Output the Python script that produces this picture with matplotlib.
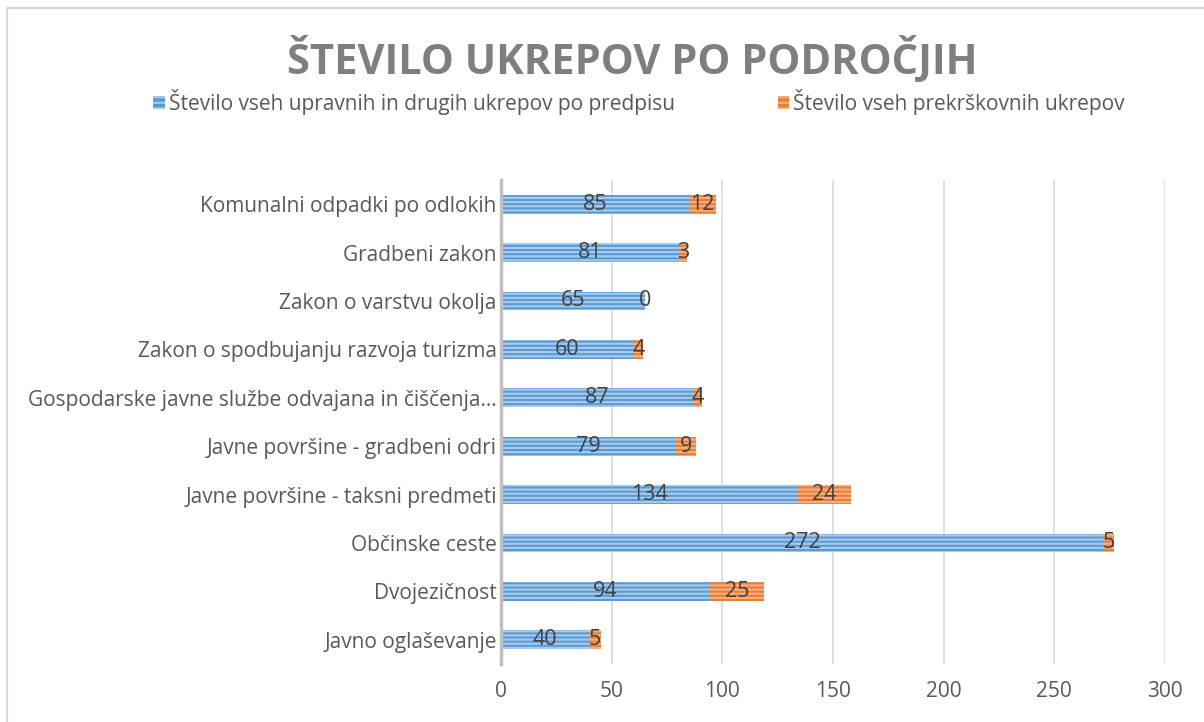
import matplotlib
matplotlib.use('Agg')
import matplotlib.pyplot as plt
from matplotlib.patches import Rectangle, Patch

plt.rcParams['font.family'] = ['Open Sans', 'DejaVu Sans']
plt.rcParams['hatch.linewidth'] = 1.5

kategorije = ['Javno oglaševanje', 'Dvojezičnost', 'Občinske ceste',
              'Javne površine - taksni predmeti', 'Javne površine - gradbeni odri',
              'Gospodarske javne službe odvajana in čiščenja…',
              'Zakon o spodbujanju razvoja turizma', 'Zakon o varstvu okolja',
              'Gradbeni zakon', 'Komunalni odpadki po odlokih']
upravni = [40, 94, 272, 134, 79, 87, 60, 65, 81, 85]
prekrskovni = [5, 25, 5, 24, 9, 4, 4, 0, 3, 12]
x_ticks = [0, 50, 100, 150, 200, 250, 300]

naslov = 'ŠTEVILO UKREPOV PO PODROČJIH'
legenda = ['Število vseh upravnih in drugih ukrepov po predpisu',
           'Število vseh prekrškovnih ukrepov']

modra, modra_crte = '#5B9BD5', '#A9CBEB'
oranzna, oranzna_crte = '#ED7D31', '#F4B183'
siva_txt = '#595959'

fig = plt.figure(figsize=(12.04, 7.22), dpi=100)
W, H = 1204, 722
# okvir grafa (viden je le levi in zgornji rob)
fig.patches.append(Rectangle((7 / W, -0.1), 1.5, (H - 8) / H + 0.1, transform=fig.transFigure,
                             fill=False, edgecolor='#D9D9D9', linewidth=1.5))

ax = fig.add_axes([501 / W, 1 - 664 / H, (1165 - 501) / W, (664 - 180) / H])
y = range(len(kategorije))
ax.barh(y, upravni, height=0.39, color=modra, edgecolor=modra_crte, hatch='----', linewidth=0, zorder=3)
ax.barh(y, prekrskovni, left=upravni, height=0.39, color=oranzna, edgecolor=oranzna_crte,
        hatch='----', linewidth=0, zorder=3)

for i in y:
    ax.text(upravni[i] / 2, i, str(upravni[i]), ha='center', va='center',
            fontsize=15.5, color='#404040', zorder=4)
    ax.text(upravni[i] + prekrskovni[i] / 2, i, str(prekrskovni[i]), ha='center', va='center',
            fontsize=15.5, color='#404040', zorder=4)

ax.set_xlim(0, 300)
ax.set_ylim(-0.5, len(kategorije) - 0.5)
ax.set_xticks(x_ticks)
ax.set_yticks(list(y))
ax.set_yticklabels(kategorije)
ax.tick_params(axis='both', length=0, labelsize=15, colors=siva_txt)
ax.tick_params(axis='y', pad=3)
ax.tick_params(axis='x', pad=12)
ax.grid(axis='x', color='#D9D9D9', linewidth=1.2, zorder=0)
for s in ['top', 'right', 'bottom']:
    ax.spines[s].set_visible(False)
ax.spines['left'].set_color('#BFBFBF')
ax.spines['left'].set_linewidth(2.5)
ax.spines['left'].set_zorder(5)

fig.text(632 / W, 1 - 60 / H, naslov, ha='center', va='center', fontsize=30,
         fontweight='bold', color='#7F7F7F')

rocke = [Patch(facecolor=modra, edgecolor=modra_crte, hatch='---', linewidth=0),
         Patch(facecolor=oranzna, edgecolor=oranzna_crte, hatch='---', linewidth=0)]
fig.legend(rocke, legenda, loc='center', bbox_to_anchor=(639 / W, 1 - 102 / H), ncol=2,
           frameon=False, fontsize=15, labelcolor=siva_txt, handlelength=0.55, handleheight=0.6,
           handletextpad=0.2, columnspacing=4.95)

fig.savefig('out.png', dpi=100)
